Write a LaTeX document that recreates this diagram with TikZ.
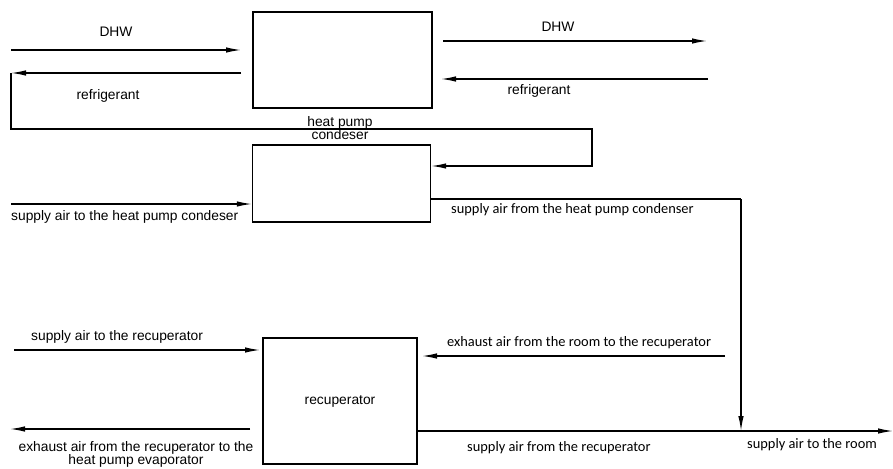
\documentclass[tikz,border=0pt]{standalone}
\usepackage{fontspec}
\setmainfont{Liberation Sans}
\newfontfamily\calib{Carlito}
\usetikzlibrary{arrows.meta}
\begin{document}
\begin{tikzpicture}[x=1pt,y=-1pt,
  boxed/.style={draw,line width=1.3pt,inner sep=0pt},
  conn/.style={line width=1.3pt},
  arr/.style={conn,-{Latex[length=15pt,width=5.5pt]}},
  lab/.style={inner sep=0pt,font=\fontsize{13.8}{15}\selectfont},
  clab/.style={inner sep=0pt,font=\calib\fontsize{14.4}{15}\selectfont}]
\useasboundingbox (0,0) rectangle (893,468);
% boxes
\node[boxed,minimum width=179pt,minimum height=96pt] (hp) at (342.5,60) {};
\node[boxed,minimum width=178pt,minimum height=77pt] (cond) at (341.5,183.5) {};
\node[boxed,minimum width=154pt,minimum height=126pt] (rec) at (340,401) {};
\node[lab] (reclab) at (rec.center) {recuperator};
\node[lab,align=center] (hplab) at (340,128) {heat pump\\[-2pt]condeser};
% coordinates
\coordinate (a1) at (11,50); \coordinate (a2) at (241,50);
\coordinate (b1) at (241,73); \coordinate (b2) at (11,73);
\coordinate (c1) at (443,41); \coordinate (c2) at (707,41);
\coordinate (d1) at (708,79); \coordinate (d2) at (441,79);
\coordinate (e1) at (592,129);
\coordinate (f1) at (11,204);
\coordinate (g1) at (741,199); \coordinate (g2) at (741,431);
\coordinate (h1) at (14,350); \coordinate (h2) at (260,350);
\coordinate (i1) at (250,429); \coordinate (i2) at (10,429);
\coordinate (j1) at (725,356); \coordinate (j2) at (422,356);
\coordinate (k2) at (893,431);
% arrows
\draw[arr] (a1) -- (a2);
\draw[arr] (b1) -- (b2);
\draw[arr] (b2) |- (e1) |- (cond.east |- 0,166);
\draw[arr] (c1) -- (c2);
\draw[arr] (d1) -- (d2);
\draw[arr] (f1) -- (cond.west |- f1);
\draw[conn] (cond.east |- g1) -- (g1);
\draw[arr] (g1) -- (g2);
\draw[arr] (h1) -- (h2);
\draw[arr] (i1) -- (i2);
\draw[arr] (j1) -- (j2);
\draw[arr] (rec.east |- k2) -- (k2);
% labels
\node[lab] (l1) at (116,32) {DHW};
\node[lab] (l2) at (108,96) {refrigerant};
\node[lab] (l3) at (558,27) {DHW};
\node[lab] (l4) at (539,91) {refrigerant};
\node[lab,anchor=west] (l5) at (11,217) {supply air to the heat pump condeser};
\node[clab,anchor=west] (l6) at (451,210) {supply air from the heat pump condenser};
\node[lab,anchor=west] (l7) at (31,337) {supply air to the recuperator};
\node[clab,anchor=west] (l8) at (447,343) {exhaust air from the room to the recuperator};
\node[lab,align=center] (l9) at (136,454) {exhaust air from the recuperator to the\\[-2pt]heat pump evaporator};
\node[clab,anchor=west] (l10) at (467,448) {supply air from the recuperator};
\node[clab,anchor=west] (l11) at (747,445) {supply air to the room};
\end{tikzpicture}
\end{document}
